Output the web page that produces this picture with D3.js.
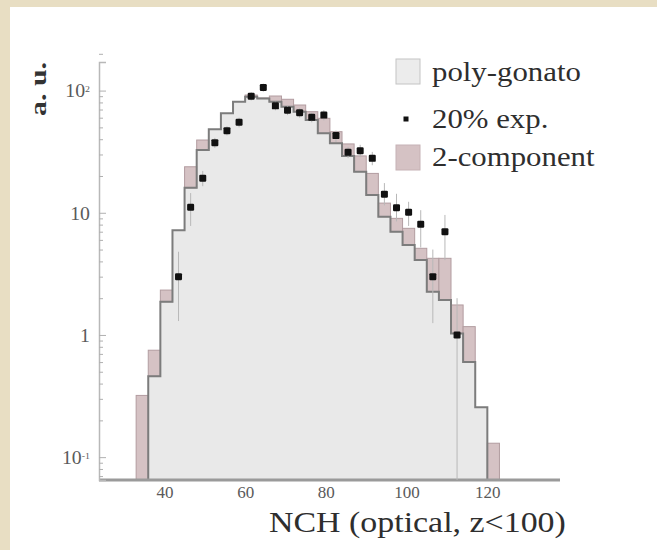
<!DOCTYPE html>
<html>
<head>
<meta charset="utf-8">
<script src="https://cdn.jsdelivr.net/npm/d3@7"></script>
<style>
  html, body { margin: 0; padding: 0; background: #e8dec3; }
  svg { display: block; }
</style>
</head>
<body>
<svg id="chart" width="657" height="550"></svg>
<script>
// NCH distribution (optical, z<100): model histograms and 20% data sample

// lower edges of the 3-unit NCH bins
const binLo = [33, 36, 39, 42, 45, 48, 51, 54, 57, 60, 63, 66, 69, 72, 75,
               78, 81, 84, 87, 90, 93, 96, 99, 102, 105, 108, 111, 114, 117, 120];
const binWidth = 3;

// poly-gonato model, per bin (0 = empty bin)
const polyGonato = [0, 0.46, 1.87, 7.2, 16, 32.6, 48.2, 65.2, 81, 89,
                    86, 81.1, 73.8, 67.2, 57.4, 44.7, 37, 29.2, 21.7, 14,
                    9.3, 7.0, 5.45, 4.1, 2.26, 1.93, 1.03, 0.6, 0.256, 0];

// 2-component model, per bin
const twoComponent = [0.32, 0.75, 2.33, 7.2, 23.8, 39.4, 48.2, 65.2, 81, 92,
                      87, 90.3, 84.9, 76.2, 67.2, 59.3, 46.1, 36.6, 29.2, 21,
                      12.0, 9.0, 7.46, 5.12, 4.24, 4.24, 1.76, 1.17, 0.256, 0.13];

// 20% experimental sample: bin centres, values and error ranges
const expNch = [43.5, 46.5, 49.5, 52.5, 55.5, 58.5, 61.5, 64.5, 67.5, 70.5, 73.5, 76.5,
                79.5, 82.5, 85.5, 88.5, 91.5, 94.5, 97.5, 100.5, 103.5, 106.5, 109.5, 112.5];
const expValue = [3.0, 11.1, 19.2, 37.5, 47, 55, 90, 106, 75, 69, 66, 60.4,
                  63, 42.8, 31.3, 32.2, 27.9, 14.2, 11.0, 10.1, 8.05, 3.0, 7.0, 1.0];
const expLow = [1.3, 7.8, 16.5, 34, 43, 50, 83, 98, 69, 63, 60, 55,
                57, 38, 28, 28.5, 24.5, 11.5, 8.5, 7.8, 5.2, 1.25, 4.1, 0];
const expHigh = [4.8, 14.5, 22, 41, 51, 60, 97, 114, 81, 75, 72, 66,
                 69, 47, 34.5, 36, 31.5, 17.5, 14.3, 12.3, 10.5, 5.0, 9.6, 2.0];

// axis ticks and labels
const xTicks = [40, 60, 80, 100, 120];
const yMajor = [0.1, 1, 10, 100];
const yMajorBase = ["10", "1", "10", "10"];
const yMajorExp = ["-1", "", "", "2"];
const yMinor = [0.07, 0.08, 0.09, 0.2, 0.3, 0.4, 0.5, 0.6, 0.7, 0.8, 0.9,
                2, 3, 4, 5, 6, 7, 8, 9, 20, 30, 40, 50, 60, 70, 80, 90, 200];

const legendLabels = ["poly-gonato", "20% exp.", "2-component"];
const xTitle = "NCH (optical, z<100)";
const yTitle = "a. u.";

const svg = d3.select("#chart");
const W = 657, H = 550;
const wide = 1.1;   // horizontal stretch of the serif lettering

// page frame and white panel
svg.append("rect").attr("width", W).attr("height", H).attr("fill", "#e8dec3");
svg.append("rect").attr("x", 10).attr("y", 7).attr("width", W - 10).attr("height", H - 7)
   .attr("fill", "#ffffff");

const x = d3.scaleLinear().domain([23.8, 138]).range([99, 560]);
const y = d3.scaleLog().domain([0.065, 171.4]).range([480, 62]);
const yBottom = y.range()[0];
const yv = v => (v > y.domain()[0] ? y(v) : yBottom);

// poly-gonato filled step histogram
const stepPts = [];
binLo.forEach((lo, i) => {
  stepPts.push([x(lo), yv(polyGonato[i])]);
  stepPts.push([x(lo + binWidth), yv(polyGonato[i])]);
});
const area = d3.area().x(d => d[0]).y0(yBottom).y1(d => d[1]);
svg.append("path").attr("d", area(stepPts)).attr("fill", "#e9e9e9");

// 2-component: box between the two models where they differ
svg.append("g").selectAll("rect")
  .data(binLo.map((lo, i) => ({ lo, a: twoComponent[i], b: polyGonato[i] }))
             .filter(d => Math.abs(d.a - d.b) > 1e-9))
  .join("rect")
  .attr("x", d => x(d.lo))
  .attr("width", d => x(d.lo + binWidth) - x(d.lo))
  .attr("y", d => Math.min(yv(d.a), yv(d.b)))
  .attr("height", d => Math.abs(yv(d.a) - yv(d.b)))
  .attr("fill", "#d5c2c4")
  .attr("stroke", "#b29ca0")
  .attr("stroke-width", 1);

// poly-gonato outline
const outline = [[x(binLo[0]), yBottom], ...stepPts, [x(binLo[binLo.length - 1] + binWidth), yBottom]];
svg.append("path").attr("d", d3.line()(outline))
   .attr("fill", "none").attr("stroke", "#7c7c7c").attr("stroke-width", 2)
   .attr("stroke-linejoin", "miter");

// baseline
svg.append("line").attr("x1", x.range()[0]).attr("x2", x.range()[1])
   .attr("y1", yBottom).attr("y2", yBottom)
   .attr("stroke", "#9a9a9a").attr("stroke-width", 3);

// y axis: major ticks with labels, minor ticks
const serif = "'Liberation Serif', 'Times New Roman', serif";
const gYmaj = svg.append("g").attr("transform", `translate(${x.range()[0]},0)`)
  .call(d3.axisLeft(y).tickValues(yMajor).tickSize(-7).tickPadding(8).tickFormat(() => ""));
const gYmin = svg.append("g").attr("transform", `translate(${x.range()[0]},0)`)
  .call(d3.axisLeft(y).tickValues(yMinor).tickSize(-4).tickFormat(() => ""));
[gYmaj, gYmin].forEach(g => {
  g.select(".domain").attr("stroke", "#b8b8b8").attr("stroke-width", 1.5);
  g.selectAll(".tick line").attr("stroke", "#b0b0b0");
});
gYmin.select(".domain").remove();
gYmaj.selectAll(".tick text").each(function (d, i) {
  const t = d3.select(this)
    .attr("font-family", serif).attr("font-size", 18).attr("fill", "#5a5a5a")
    .attr("x", -9 / wide).attr("transform", `scale(${wide},1)`)
    .attr("dy", "0.35em");
  t.append("tspan").text(yMajorBase[i]);
  if (yMajorExp[i]) {
    t.append("tspan").attr("dy", "-0.55em").attr("font-size", 9).text(yMajorExp[i]);
  }
});

// x axis labels
const gX = svg.append("g").attr("transform", `translate(0,${yBottom})`)
  .call(d3.axisBottom(x).tickValues(xTicks).tickSize(0).tickPadding(6));
gX.select(".domain").remove();
gX.selectAll(".tick text").attr("font-family", serif).attr("font-size", 17).attr("fill", "#5a5a5a");

// error bars of the data sample
const pts = expNch.map((n, i) => ({ n, v: expValue[i], lo: expLow[i], hi: expHigh[i] }));
svg.append("g").selectAll("line").data(pts).join("line")
  .attr("x1", d => x(d.n)).attr("x2", d => x(d.n))
  .attr("y1", d => yv(d.lo)).attr("y2", d => yv(d.hi))
  .attr("stroke", "#b8b8b8").attr("stroke-width", 1);

// data points
const ms = 7;
svg.append("g").selectAll("rect").data(pts).join("rect")
  .attr("x", d => x(d.n) - ms / 2).attr("y", d => y(d.v) - ms / 2)
  .attr("width", ms).attr("height", ms).attr("rx", 1.2)
  .attr("fill", "#111");

// stretched text helper: keeps the glyph height, widens the run
function stretched(sel, factor) {
  const w = sel.node().getComputedTextLength();
  sel.attr("textLength", w * factor).attr("lengthAdjust", "spacingAndGlyphs");
  return sel;
}

// axis titles
stretched(svg.append("text").attr("transform", "translate(46,62) rotate(-90)")
  .attr("text-anchor", "end").attr("font-family", serif).attr("font-weight", "bold")
  .attr("font-size", 23).attr("fill", "#333").text(yTitle), 1.3);
stretched(svg.append("text").attr("x", 269).attr("y", 532)
  .attr("font-family", serif).attr("font-size", 30).attr("fill", "#2e2e2e").text(xTitle), 1.13);

// legend
const lg = svg.append("g");
lg.append("rect").attr("x", 396).attr("y", 59).attr("width", 24).attr("height", 25)
  .attr("fill", "#ececec").attr("stroke", "#c4c4c4");
lg.append("rect").attr("x", 403.5).attr("y", 116.5).attr("width", 5).attr("height", 5).attr("fill", "#111");
lg.append("rect").attr("x", 396).attr("y", 145).attr("width", 24).attr("height", 25)
  .attr("fill", "#d5c2c4").attr("stroke", "#c6b2b5");
[81, 128, 166].forEach((by, i) => {
  stretched(lg.append("text").attr("x", 432).attr("y", by)
    .attr("font-family", serif).attr("font-size", 28).attr("fill", "#2e2e2e")
    .text(legendLabels[i]), wide);
});
</script>
</body>
</html>
